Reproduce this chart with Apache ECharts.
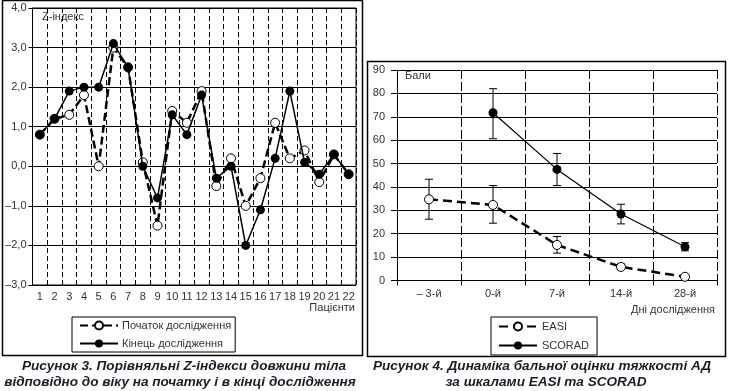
<!DOCTYPE html>
<html><head><meta charset="utf-8">
<script src="https://cdn.jsdelivr.net/npm/echarts@6/dist/echarts.min.js"></script>
<style>html,body{margin:0;padding:0;background:#fff}#c{width:730px;height:391px}</style>
</head><body><div id="c"></div><script>
// ---- Chart 3 data (Z-index) ----
const patients = ['1','2','3','4','5','6','7','8','9','10','11','12','13','14','15','16','17','18','19','20','21','22'];
const zStart = [0.8,1.2,1.3,1.8,0.0,3.0,2.5,0.1,-1.5,1.4,1.1,1.9,-0.5,0.2,-1.0,-0.3,1.1,0.2,0.4,-0.4,0.3,-0.2];
const zEnd   = [0.8,1.2,1.9,2.0,2.0,3.1,2.5,0.0,-0.8,1.3,0.8,1.8,-0.3,0.0,-2.0,-1.1,0.2,1.9,0.1,-0.2,0.3,-0.2];
const zName1 = 'Початок дослідження';
const zName2 = 'Кінець дослідження';
// ---- Chart 4 data (EASI / SCORAD) ----
const days = ['– 3-й','0-й','7-й','14-й','28-й'];
const easi       = [34.7,32.3,15.2,5.8,1.6];
const easiLow    = [26.2,24.5,11.7,4.9,null];
const easiHigh   = [43.3,40.6,18.8,7.1,null];
const scorad     = [null,71.7,47.5,28.4,14.4];
const scoradLow  = [null,60.6,40.6,24.2,12.7];
const scoradHigh = [null,82.0,54.3,32.6,16.2];

const FF = '"Liberation Sans", Arial, sans-serif';
const TXT = '#333';
const CAP = 'italic bold 13.6px ' + FF;
const chart = echarts.init(document.getElementById('c'), null, {renderer:'canvas'});

function fmtZ(v){ const s = Math.abs(v).toFixed(1).replace('.', ','); return v < 0 ? '–' + s : s; }

function errData(lo, hi){
  const out = [];
  lo.forEach((l,i)=>{ if(l!=null && hi[i]!=null) out.push([i,l,hi[i]]); });
  return out;
}
function errRender(params, api){
  const x = api.value(0);
  const p1 = api.coord([x, api.value(1)]);
  const p2 = api.coord([x, api.value(2)]);
  const w = 4;
  const st = {stroke:'#000', lineWidth:1};
  return {type:'group', children:[
    {type:'line', shape:{x1:p1[0],y1:p1[1],x2:p2[0],y2:p2[1]}, style:st},
    {type:'line', shape:{x1:p1[0]-w,y1:p1[1],x2:p1[0]+w,y2:p1[1]}, style:st},
    {type:'line', shape:{x1:p2[0]-w,y1:p2[1],x2:p2[0]+w,y2:p2[1]}, style:st}
  ]};
}

const option = {
  animation:false,
  textStyle:{fontFamily:FF},
  grid:[
    {left:32.5, top:8, width:323.5, height:277, show:true, borderColor:'#000', borderWidth:1, backgroundColor:'transparent'},
    {left:397, top:70, width:320, height:210.5}
  ],
  xAxis:[
    {type:'category', gridIndex:0, data:patients, boundaryGap:true,
     axisLine:{show:false}, axisTick:{show:false},
     axisLabel:{color:TXT, fontSize:11, margin:6, interval:0, fontFamily:FF},
     splitLine:{show:true, interval:0, lineStyle:{color:'#000', width:1, type:[5,3]}}},
    {type:'category', gridIndex:1, data:days, boundaryGap:true,
     axisLine:{show:true, lineStyle:{color:'#000', width:1}},
     axisTick:{show:true, length:5, lineStyle:{color:'#000'}},
     axisLabel:{color:TXT, fontSize:11, margin:8, interval:0, fontFamily:FF},
     splitLine:{show:true, interval:0, lineStyle:{color:'#000', width:1, type:[9,3]}}}
  ],
  yAxis:[
    {type:'value', gridIndex:0, min:-3, max:4, interval:1,
     axisLine:{show:true, lineStyle:{color:'#000'}},
     axisTick:{show:true, length:4, lineStyle:{color:'#000'}},
     axisLabel:{color:TXT, fontSize:11, margin:6, formatter:fmtZ, fontFamily:FF},
     splitLine:{show:true, lineStyle:{color:'#000', width:1}}},
    {type:'value', gridIndex:1, min:0, max:90, interval:10,
     axisLine:{show:true, lineStyle:{color:'#000'}},
     axisTick:{show:true, length:6, lineStyle:{color:'#000'}},
     axisLabel:{color:TXT, fontSize:11, margin:12, fontFamily:FF},
     splitLine:{show:true, lineStyle:{color:'#000', width:1}}}
  ],
  legend:[
    {left:72, top:317, orient:'vertical', borderColor:'#000', borderWidth:1, padding:[3,4,3,7],
     itemWidth:38, itemHeight:10, itemGap:7, backgroundColor:'#fff',
     textStyle:{fontSize:11, color:TXT, fontFamily:FF, padding:[0,0,0,-1]},
     data:[zName1, zName2]},
    {left:491, top:317, orient:'vertical', borderColor:'#000', borderWidth:1, padding:[4,8,4,7],
     itemWidth:38, itemHeight:10, itemGap:8, backgroundColor:'#fff',
     textStyle:{fontSize:11, color:TXT, fontFamily:FF},
     data:['EASI','SCORAD']}
  ],
  series:[
    {name:zName1, type:'line', xAxisIndex:0, yAxisIndex:0, data:zStart,
     symbol:'circle', symbolSize:9, z:3,
     lineStyle:{color:'#000', width:2.5, type:[8,4]},
     itemStyle:{color:'#fff', borderColor:'#000', borderWidth:1}},
    {name:zName2, type:'line', xAxisIndex:0, yAxisIndex:0, data:zEnd,
     symbol:'circle', symbolSize:9, z:4,
     lineStyle:{color:'#000', width:1.5, type:'solid'},
     itemStyle:{color:'#000', borderColor:'#000', borderWidth:0}},
    {name:'EASI-err', type:'custom', xAxisIndex:1, yAxisIndex:1, data:errData(easiLow, easiHigh), renderItem:errRender, z:2},
    {name:'SCORAD-err', type:'custom', xAxisIndex:1, yAxisIndex:1, data:errData(scoradLow, scoradHigh), renderItem:errRender, z:2},
    {name:'EASI', type:'line', xAxisIndex:1, yAxisIndex:1, data:easi,
     symbol:'circle', symbolSize:9, z:3,
     lineStyle:{color:'#000', width:2.5, type:[9,5]},
     itemStyle:{color:'#fff', borderColor:'#000', borderWidth:1}},
    {name:'SCORAD', type:'line', xAxisIndex:1, yAxisIndex:1, data:scorad,
     symbol:'circle', symbolSize:9, z:4,
     lineStyle:{color:'#000', width:1.2, type:'solid'},
     itemStyle:{color:'#000', borderColor:'#000', borderWidth:0}}
  ],
  graphic:[
    {type:'rect', shape:{x:2.5, y:0.5, width:360, height:355}, style:{fill:'none', stroke:'#000', lineWidth:1.5}, z:-1, silent:true},
    {type:'rect', shape:{x:367.5, y:61.5, width:358, height:295}, style:{fill:'none', stroke:'#000', lineWidth:1.5}, z:-1, silent:true},
    {type:'text', left:42, top:11, style:{text:'Z-індекс', font:'11px '+FF, fill:TXT}},
    {type:'text', right:730-355, top:302, style:{text:'Пацієнти', font:'11px '+FF, fill:TXT, align:'right'}},
    {type:'text', left:405, top:70, style:{text:'Бали', font:'11px '+FF, fill:TXT}},
    {type:'text', right:730-715, top:304, style:{text:'Дні дослідження', font:'11px '+FF, fill:TXT, align:'right'}},
    {type:'text', x:184, y:366, style:{text:'Рисунок 3. Порівняльні Z-індекси довжини тіла', font:CAP, fill:'#1c1c28', align:'center', verticalAlign:'middle'}},
    {type:'text', x:180, y:382, style:{text:'відповідно до віку на початку і в кінці дослідження', font:CAP, fill:'#1c1c28', align:'center', verticalAlign:'middle'}},
    {type:'text', x:542, y:366, style:{text:'Рисунок 4. Динаміка бальної оцінки тяжкості АД', font:CAP, fill:'#1c1c28', align:'center', verticalAlign:'middle'}},
    {type:'text', x:546, y:382, style:{text:'за шкалами EASI та SCORAD', font:CAP, fill:'#1c1c28', align:'center', verticalAlign:'middle'}}
  ]
};
chart.setOption(option);
</script></body></html>
